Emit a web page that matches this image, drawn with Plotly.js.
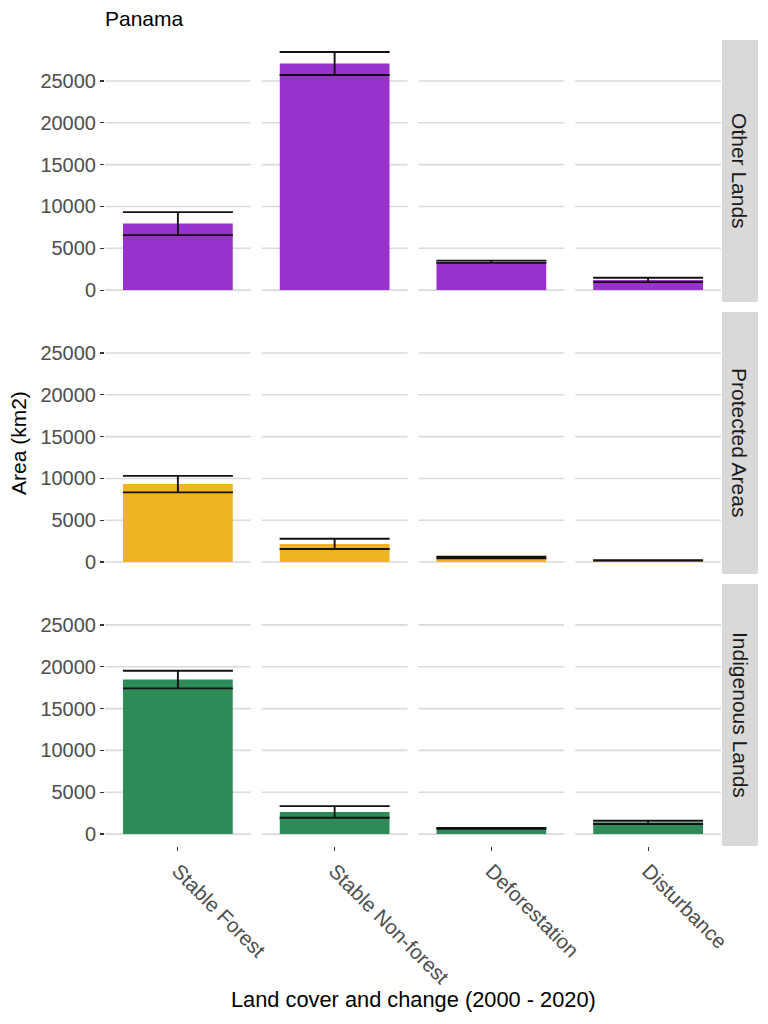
<!DOCTYPE html>
<html>
<head>
<meta charset="utf-8">
<script src="https://cdn.plot.ly/plotly-3.0.1.min.js"></script>
<style>
  html, body { margin: 0; padding: 0; background: #fff; }
  #chart { width: 768px; height: 1024px; }
</style>
</head>
<body>
<div id="chart"></div>
<script>
// Land cover classes (x categories)
const landCover = ['Stable Forest', 'Stable Non-forest', 'Deforestation', 'Disturbance'];

// Facet rows, top to bottom
const facetNames = ['Other Lands', 'Protected Areas', 'Indigenous Lands'];
const facetColors = ['#9932CC', '#EEB422', '#2E8B57'];

// Area estimates (km2) and their standard errors per facet
const otherLandsArea = [7950, 27090, 3390, 1220];
const otherLandsErr = [1375, 1375, 140, 260];
const protectedArea = [9320, 2175, 540, 200];
const protectedErr = [990, 615, 100, 30];
const indigenousArea = [18470, 2650, 680, 1400];
const indigenousErr = [1060, 695, 60, 200];

const yTicks = [0, 5000, 10000, 15000, 20000, 25000];

const areas = [otherLandsArea, protectedArea, indigenousArea];
const errs = [otherLandsErr, protectedErr, indigenousErr];

const font = 'Liberation Sans, Arial, Helvetica, sans-serif';
const xIdx = landCover.map((_, i) => i);
const yRange = [-1424, 29894];
const xRange = [-0.465, landCover.length - 1 + 0.465];

// Panel vertical domains (paper units)
const domains = [[0.6749, 1.0], [0.3375, 0.6625], [0.0, 0.3251]];

const traces = [];
const shapes = [];
const annotations = [];
const layout = {
  width: 768,
  height: 1024,
  margin: { l: 105, r: 47, t: 40, b: 178 },
  paper_bgcolor: '#ffffff',
  plot_bgcolor: '#ffffff',
  showlegend: false,
  font: { family: font, size: 20, color: '#4d4d4d' },
  title: {
    text: 'Panama',
    x: 0, xref: 'paper', xanchor: 'left',
    y: 1 - 18.5 / 1024, yref: 'container', yanchor: 'middle',
    font: { family: font, size: 21, color: '#000000' }
  }
};

facetNames.forEach((name, r) => {
  const sfx = r === 0 ? '' : String(r + 1);
  const xa = 'x' + sfx, ya = 'y' + sfx;
  const isBottom = r === facetNames.length - 1;

  traces.push({
    type: 'bar',
    x: xIdx,
    y: areas[r],
    xaxis: xa,
    yaxis: ya,
    width: 0.7,
    marker: { color: facetColors[r], line: { width: 0 } },
    error_y: {
      type: 'data',
      array: errs[r],
      visible: true,
      color: '#111111',
      thickness: 1.9,
      width: 55
    },
    hoverinfo: 'x+y'
  });

  layout['xaxis' + sfx] = {
    domain: [0, 1],
    anchor: ya,
    range: xRange,
    tickmode: 'array',
    tickvals: xIdx,
    ticktext: landCover,
    showticklabels: isBottom,
    ticks: isBottom ? 'outside' : '',
    ticklen: 4,
    tickwidth: 1.2,
    tickcolor: '#333333',
    tickangle: 45,
    tickfont: { family: font, size: 20.5, color: '#4d4d4d' },
    showgrid: false,
    zeroline: false,
    showline: false,
    fixedrange: true
  };
  if (r > 0) layout['xaxis' + sfx].matches = 'x';

  layout['yaxis' + sfx] = {
    domain: domains[r],
    anchor: xa,
    range: yRange,
    tickmode: 'array',
    tickvals: yTicks,
    ticktext: yTicks.map(String),
    ticks: 'outside',
    ticklen: 4,
    tickwidth: 1.2,
    tickcolor: '#333333',
    tickfont: { family: font, size: 20, color: '#4d4d4d' },
    showgrid: false,
    zeroline: false,
    showline: false,
    fixedrange: true
  };

  // Horizontal grid segments, one per category
  yTicks.forEach(v => {
    xIdx.forEach(i => {
      shapes.push({
        type: 'line', xref: xa, yref: ya, layer: 'below',
        x0: i - 0.465, x1: i + 0.465, y0: v, y1: v,
        line: { color: '#dadada', width: 1.6 }
      });
    });
  });

  // Facet strip on the right
  shapes.push({
    type: 'rect', xref: 'paper', yref: 'paper', layer: 'below',
    x0: 1.0016, x1: 1.060, y0: domains[r][0], y1: domains[r][1],
    fillcolor: '#d9d9d9', line: { width: 0 }
  });
  annotations.push({
    text: name, xref: 'paper', yref: 'paper',
    x: 1.0308, y: (domains[r][0] + domains[r][1]) / 2,
    xanchor: 'center', yanchor: 'middle', textangle: 90, showarrow: false,
    font: { family: font, size: 21, color: '#1a1a1a' }
  });
});

// Axis titles
annotations.push({
  text: 'Land cover and change (2000 - 2020)', xref: 'paper', yref: 'paper',
  x: 0.5, y: -0.191, xanchor: 'center', yanchor: 'middle', showarrow: false,
  font: { family: font, size: 21.8, color: '#000000' }
});
annotations.push({
  text: 'Area (km2)', xref: 'paper', yref: 'paper',
  x: -0.1412, y: 0.5, xanchor: 'center', yanchor: 'middle', textangle: -90, showarrow: false,
  font: { family: font, size: 21, color: '#000000' }
});

layout.shapes = shapes;
layout.annotations = annotations;

Plotly.newPlot('chart', traces, layout, { displayModeBar: false, staticPlot: true });
</script>
</body>
</html>
